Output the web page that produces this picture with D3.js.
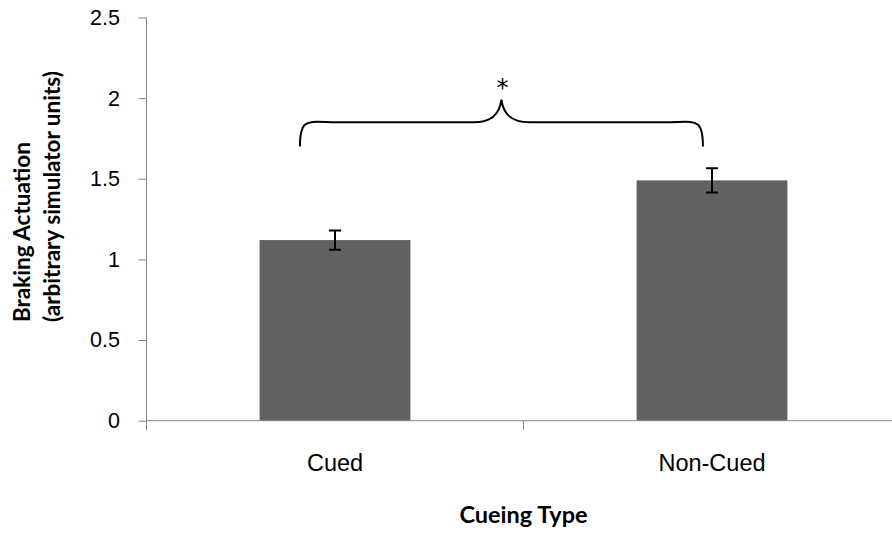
<!DOCTYPE html>
<html>
<head>
<meta charset="utf-8">
<script src="https://cdn.jsdelivr.net/npm/d3@7"></script>
<style>
  body { margin: 0; background: #fff; }
  svg { display: block; font-family: Lato, "Open Sans", sans-serif; }
</style>
</head>
<body>
<div class="graph"></div>
<script>
const categories = ['Cued', 'Non-Cued'];
const means = [1.12, 1.49];
const errors = [0.06, 0.075];
const yTicks = [0, 0.5, 1, 1.5, 2, 2.5];
const yTitle = ['Braking Actuation', '(arbitrary simulator units)'];
const xTitle = 'Cueing Type';
const sigMark = '*';

const width = 892;
const height = 533;
const plot = {left: 146.5, right: 900.5, top: 17.5, bottom: 420.7};
const axisColor = '#868686';
const barColor = '#616161';

const svg = d3.select('.graph').append('svg')
  .attr('width', width)
  .attr('height', height);

const x = d3.scaleBand()
  .domain(categories)
  .range([plot.left, plot.right])
  .paddingInner(0.6)
  .paddingOuter(0.3);

const y = d3.scaleLinear()
  .domain([0, 2.5])
  .range([plot.bottom, plot.top]);

const cx = c => x(c) + x.bandwidth() / 2;

// bars
svg.append('g').selectAll('rect')
  .data(categories)
  .join('rect')
    .attr('x', d => x(d))
    .attr('width', x.bandwidth())
    .attr('y', (d, i) => y(means[i]))
    .attr('height', (d, i) => y(0) - y(means[i]))
    .attr('fill', barColor);

// y axis
const yAxis = svg.append('g')
  .attr('transform', `translate(${plot.left},0)`)
  .call(d3.axisLeft(y).tickValues(yTicks).tickFormat(d3.format('')).tickSize(8).tickPadding(18.5));
yAxis.select('.domain').attr('stroke', axisColor).attr('d', `M0,${plot.top}V${plot.bottom + 9}`);
yAxis.selectAll('.tick line').attr('stroke', axisColor);
yAxis.selectAll('.tick text').attr('fill', '#000').style('font-size', '21.5px');

// x axis: labels from the band scale, boundary ticks from its step
const xAxis = svg.append('g')
  .attr('transform', `translate(0,${plot.bottom})`)
  .call(d3.axisBottom(x).tickSize(0).tickPadding(34));
xAxis.select('.domain').attr('stroke', axisColor).attr('d', `M${plot.left},0H${width}`);
xAxis.selectAll('.tick text').attr('fill', '#000').style('font-size', '23.5px');

const bounds = d3.range(categories.length + 1).map(i => plot.left + i * x.step());
xAxis.selectAll('.bound')
  .data(bounds)
  .join('line')
    .attr('class', 'bound')
    .attr('x1', d => d).attr('x2', d => d)
    .attr('y1', 0).attr('y2', 9)
    .attr('stroke', axisColor);

// error bars
const capW = 6;
const eb = svg.append('g').attr('stroke', '#000').attr('stroke-width', 2).attr('fill', 'none');
categories.forEach((c, i) => {
  const lo = y(means[i] - errors[i]);
  const hi = y(means[i] + errors[i]);
  eb.append('path')
    .attr('d', `M${cx(c)},${lo}V${hi}M${cx(c) - capW},${hi}H${cx(c) + capW}M${cx(c) - capW},${lo}H${cx(c) + capW}`);
});

// significance brace
const bx0 = cx(categories[0]) - 0.093 * x.step();
const bx1 = cx(categories[1]) - 0.024 * x.step();
const bm = (bx0 + bx1) / 2;
const yb = y(1.70), yl = y(1.85), yp = y(1.99);
const r = 28;
svg.append('path')
  .attr('d', `M${bx0},${yb}C${bx0},${yl - 6} ${bx0 + 8},${yl} ${bx0 + r + 10},${yl}` +
             `H${bm - r}C${bm - 10},${yl} ${bm - 2},${yl - 8} ${bm},${yp}` +
             `C${bm + 2},${yl - 8} ${bm + 10},${yl} ${bm + r},${yl}` +
             `H${bx1 - r - 10}C${bx1 - 8},${yl} ${bx1},${yl - 6} ${bx1},${yb}`)
  .attr('fill', 'none')
  .attr('stroke', '#000')
  .attr('stroke-width', 2);

svg.append('text')
  .attr('x', bm + 1)
  .attr('y', y(2.015))
  .attr('text-anchor', 'middle')
  .style('font-family', '"DejaVu Sans", sans-serif')
  .style('font-size', '24px')
  .text(sigMark);

// titles
svg.append('text')
  .attr('x', cx(categories[0]) + x.step() / 2)
  .attr('y', 523)
  .attr('text-anchor', 'middle')
  .style('font-size', '23.5px')
  .style('font-weight', 'bold')
  .text(xTitle);

const yt = svg.append('text')
  .attr('transform', 'translate(0,322) rotate(-90)')
  .attr('text-anchor', 'start')
  .style('font-size', '22.5px')
  .style('font-weight', 'bold');
yTitle.forEach((t, i) => {
  yt.append('tspan').attr('x', 0).attr('y', 30 + i * 30).text(t);
});
</script>
</body>
</html>
